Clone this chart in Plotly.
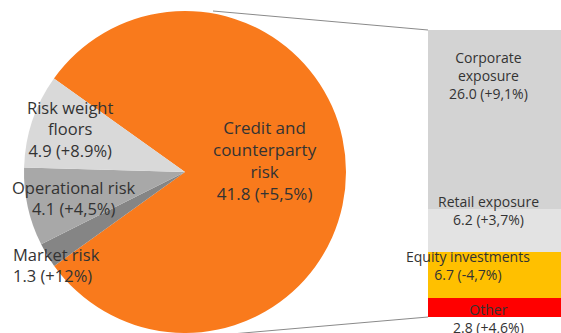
import plotly.graph_objects as go

pie_labels = ["Credit and counterparty risk", "Market risk", "Operational risk", "Risk weight floors"]
pie_values = [41.8, 1.3, 4.1, 4.9]
pie_changes = ["+5,5%", "+12%", "+4,5%", "+8.9%"]
pie_colors = ["#F97A1C", "#858585", "#A8A8A8", "#D9D9D9"]

bar_labels = ["Other", "Equity investments", "Retail exposure", "Corporate exposure"]
bar_values = [2.8, 6.7, 6.2, 26.0]
bar_changes = ["+4,6%", "-4,7%", "+3,7%", "+9,1%"]
bar_colors = ["#FF0000", "#FFC000", "#E3E3E3", "#D3D3D3"]

W, H = 561, 333
FONT = "Open Sans"
TXT = "#333333"

fig = go.Figure()

fig.add_trace(go.Pie(
    labels=pie_labels, values=pie_values, sort=False, direction="clockwise",
    rotation=-54.5, marker=dict(colors=pie_colors, line=dict(width=0)),
    textinfo="none", hoverinfo="label+value", showlegend=False,
    domain=dict(x=[23 / W, 347 / W], y=[0, 322 / H]),
))

for lab, val, col in zip(bar_labels, bar_values, bar_colors):
    fig.add_trace(go.Bar(
        x=["split"], y=[val], name=lab, marker=dict(color=col, line=dict(width=0)),
        width=1, xaxis="x2", yaxis="y2", showlegend=False,
    ))

total_bar = sum(bar_values)

fig.update_layout(
    width=W, height=H, margin=dict(l=0, r=0, t=0, b=0),
    paper_bgcolor="white", plot_bgcolor="white", barmode="stack",
    xaxis2=dict(domain=[428 / W, 1], range=[-0.5, 0.5], visible=False),
    yaxis2=dict(domain=[(H - 317) / H, (H - 30) / H], range=[0, total_bar], visible=False),
    font=dict(family=FONT, color=TXT),
)

def ann(text, x, y, size, xanchor="center", align="center"):
    fig.add_annotation(text=text, x=x / W, y=1 - y / H, xref="paper", yref="paper",
                       showarrow=False, xanchor=xanchor, yanchor="middle", align=align,
                       font=dict(size=size, family=FONT, color=TXT))

# pie labels
ann(f"Credit and<br>counterparty<br>risk<br>{pie_values[0]} ({pie_changes[0]})", 265, 160, 17)
ann(f"Risk weight<br>floors<br>{pie_values[3]} ({pie_changes[3]})", 70, 129, 16.5)
ann(f"{pie_labels[2]}<br>{pie_values[2]} ({pie_changes[2]})", 74, 198, 16.5)
ann(f"{pie_labels[1]}<br>{pie_values[1]} ({pie_changes[1]})", 11, 265, 16.5, xanchor="left", align="left")

# bar labels
ann(f"Corporate<br>exposure<br>{bar_values[3]:.1f} ({bar_changes[3]})", 488, 75, 14)
ann(f"{bar_labels[2]}<br>{bar_values[2]} ({bar_changes[2]})", 488, 210, 14)
ann(f"{bar_labels[1]}<br>{bar_values[1]} ({bar_changes[1]})", 468, 265, 14)
ann(f"{bar_labels[0]}<br>{bar_values[0]} ({bar_changes[0]})", 488, 318, 14)

# connector lines
for (x0, y0, x1, y1) in [(213, 11, 428, 30), (220, 335, 428, 317)]:
    fig.add_shape(type="line", xref="paper", yref="paper",
                  x0=x0 / W, y0=1 - y0 / H, x1=x1 / W, y1=1 - y1 / H,
                  line=dict(color="#8a8a8a", width=1))

fig.write_html("out.html", config={"displayModeBar": False},
               post_script="document.body.style.margin='0';")
